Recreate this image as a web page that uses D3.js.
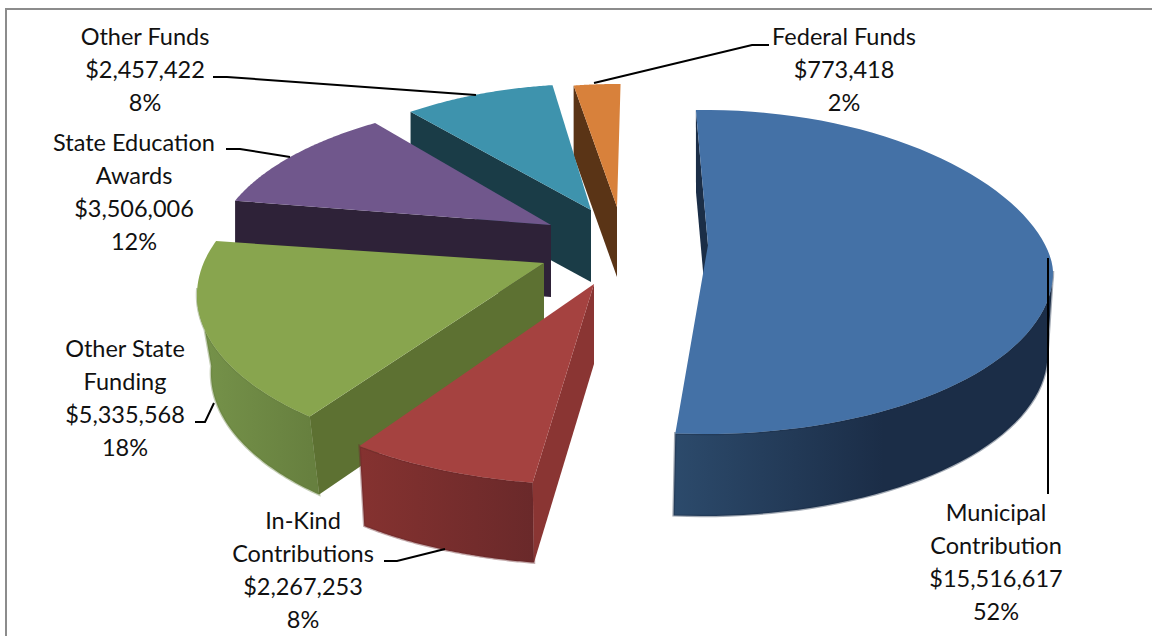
<!DOCTYPE html>
<html><head><meta charset="utf-8">
<script src="https://cdn.jsdelivr.net/npm/d3@7/dist/d3.min.js"></script>
<style>html,body{margin:0;background:#fff}svg{display:block}text{font-family:Lato,"Open Sans",sans-serif;font-size:23.5px;fill:#111;text-anchor:middle}</style>
</head><body><script>
// ---- data ----
const categories = ["Municipal Contribution","In-Kind Contributions","Other State Funding","State Education Awards","Other Funds","Federal Funds"];
const values = [15516617,2267253,5335568,3506006,2457422,773418];
const percentLabels = ["52%","8%","18%","12%","8%","2%"];
const nameLines = [["Municipal","Contribution"],["In-Kind","Contributions"],["Other State","Funding"],["State Education","Awards"],["Other Funds"],["Federal Funds"]];

// ---- styles ----
const topColors   = ["#4471a6","#a54240","#88a54e","#70578c","#3e93ad","#d8813b"];
const edgeColors  = ["#1b2e47","#8a3533","#5d7132","#2e2238","#1a3c47","#5a3416"];
const wallFrom    = ["#2c4a6b","#853230","#76934a","#2e2238","#1a3c47","#5a3416"];
const wallTo      = ["#1b2d47","#6a292a","#67803f","#2e2238","#1a3c47","#5a3416"];

// ---- 3-D layout of each exploded slice (perspective fit) ----
const apexes   = [[708,245],[594,284],[544,263],[551,225],[591,210],[617,207]];
const centres  = [[705,272],[595,340],[545,295],[553,256],[590,269],[617,270]];
const radii    = [[348,162],[345,145],[348,165],[340,156],[340,185],[340,186]];
const rimPower = [1.15,1,1,1,1,1];
const angleFit = [[1,0.3],[5.8,11.1],[10.6,12.8],[14.5,9.9],[9.6,5.5],[4.5,3.1]];
const depths   = [82,80,78,72,72,70];
const wallShrink=[0.99,0.98,0.96,1,1,1];
const wallShift= [-2,0,0,0,0,0];
const labelPos = [[996,521],[303,529],[125,357],[134,151],[145,45],[844,45]];
const lineStep = 33;
const leaders  = [
  [[1048,258],[1048,494]],
  [[384,561],[397,561],[445,549]],
  [[195,422],[205,422],[214,403]],
  [[226,149],[240,149],[290,157]],
  [[213,77],[227,77],[476,95]],
  [[769,45],[752,45],[594,83]]
];

const W=1152,H=636;
const svg=d3.select("body").append("svg").attr("width",W).attr("height",H);
const line=d3.line();
svg.append("path").attr("d",line([[6,H],[6,9],[W,9]])).attr("fill","none")
   .attr("stroke","#8c8c8c").attr("stroke-width",2);

const deg=Math.PI/180;
const pie=d3.pie().sort(null).startAngle(-2.5*deg).endAngle(357.5*deg).value(d=>d);
const arcs=pie(values);
const defs=svg.append("defs");

// rim point of slice i at ellipse angle t
const rimPoint=(i,t,s=1,dz=0,dx=0)=>{
  const c=Math.cos(t), cc=c>0?Math.pow(c,rimPower[i]):c;
  return [centres[i][0]+radii[i][0]*s*Math.sin(t)+dx, centres[i][1]-radii[i][1]*cc+dz];
};
const slices=arcs.map((a,i)=>{
  const t0=a.startAngle+angleFit[i][0]*deg, t1=a.endAngle+angleFit[i][1]*deg;
  return {i,t0,t1,ts:d3.range(0,81).map(k=>t0+(t1-t0)*k/80)};
});

const g=svg.append("g");
// painter's order: rear slices first
[5,4,3,2,1,0].forEach(i=>{
  const s=slices[i],d=depths[i],sh=wallShrink[i],dx=wallShift[i],A=apexes[i];
  const sg=g.append("g").attr("class","slice");
  // outer wall
  const fr=s.ts.filter(t=>Math.cos(t)<0.05);
  if(fr.length>1){
    const id="wall"+i;
    const xs=fr.map(t=>rimPoint(i,t)[0]);
    const gr=defs.append("linearGradient").attr("id",id).attr("gradientUnits","userSpaceOnUse")
      .attr("x1",d3.min(xs)).attr("x2",d3.max(xs)).attr("y1",0).attr("y2",0);
    gr.append("stop").attr("offset",0).attr("stop-color",wallFrom[i]);
    gr.append("stop").attr("offset",i===0?0.55:1).attr("stop-color",wallTo[i]);
    const pts=fr.map(t=>rimPoint(i,t)).concat(fr.slice().reverse().map(t=>rimPoint(i,t,sh,d,dx)));
    sg.append("path").attr("d",line(pts)+"Z").attr("fill",`url(#${id})`)
      .attr("stroke",wallTo[i]).attr("stroke-opacity",0.4).attr("stroke-width",2.5);
  }
  // inner (cut) wall
  const st=rimPoint(i,s.t0), stB=rimPoint(i,s.t0,sh,d,0);
  sg.append("path").attr("d",line([A,st,stB,[A[0],A[1]+d]])+"Z").attr("fill",edgeColors[i]);
  // top face
  sg.append("path").attr("d",line([A].concat(s.ts.map(t=>rimPoint(i,t))))+"Z").attr("fill",topColors[i]);
});

// leaders
svg.append("g").selectAll("path").data(leaders).join("path")
  .attr("d",d=>line(d)).attr("fill","none").attr("stroke","#000").attr("stroke-width",2);

// labels
const money=d3.format("$,");
svg.append("g").selectAll("text").data(categories).join("text").each(function(c,i){
  const rows=nameLines[i].concat([money(values[i]),percentLabels[i]]);
  d3.select(this).selectAll("tspan").data(rows).join("tspan")
    .attr("x",labelPos[i][0]).attr("y",(r,k)=>labelPos[i][1]+k*lineStep).text(r=>r);
});
</script></body></html>
